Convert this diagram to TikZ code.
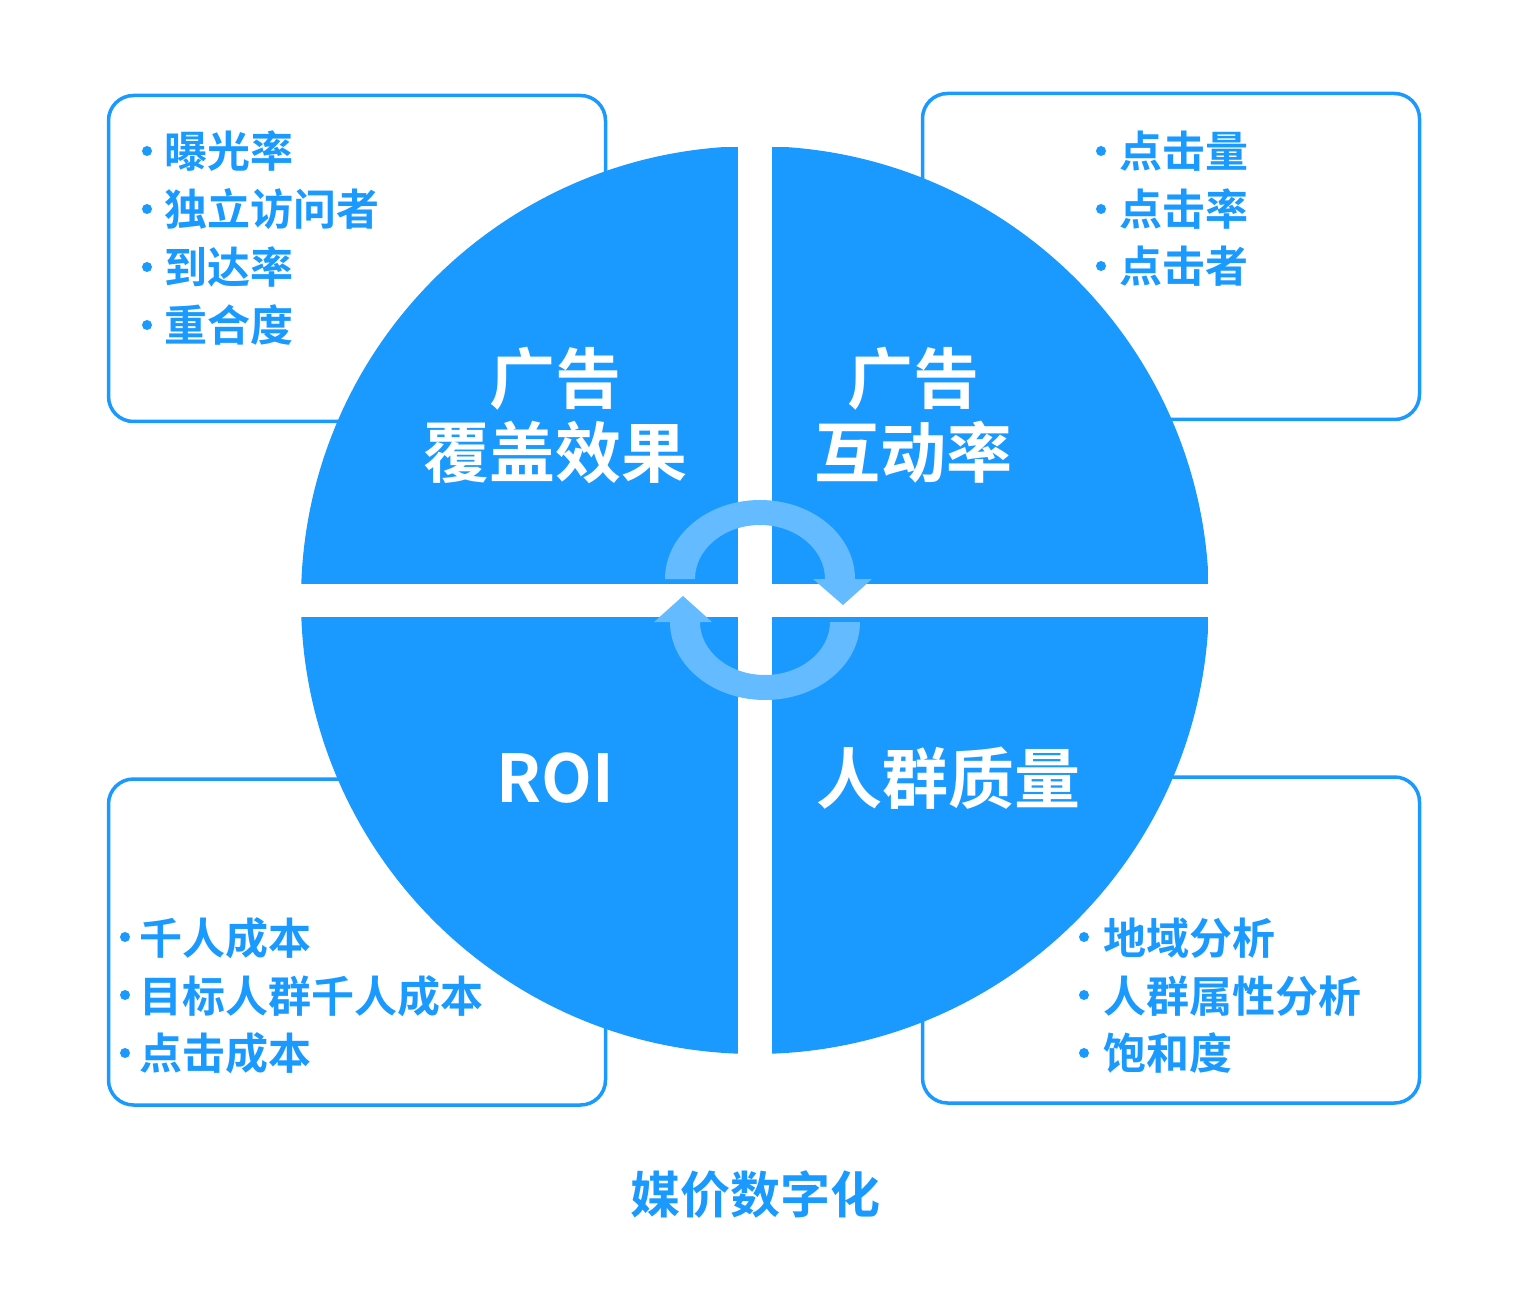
\documentclass[tikz,border=0pt]{standalone}
\usepackage{fontspec}
\setmainfont{Noto Sans CJK SC}[BoldFont={Noto Sans CJK SC Bold}]
\definecolor{mblue}{HTML}{1A9AFF}
\definecolor{lblue}{HTML}{64BBFF}
\begin{document}
\begin{tikzpicture}[x=1pt,y=1pt,
  box/.style={draw=mblue,line width=3.5pt,fill=white,rounded corners=25pt,minimum width=497pt,minimum height=326pt,inner sep=0pt},
  item/.style={anchor=west,inner sep=0pt,text=mblue,font=\fontsize{43}{48}\selectfont\bfseries},
  bdot/.style={circle,fill=mblue,inner sep=0pt,minimum size=10pt},
  quad/.style={text=white,font=\fontsize{66}{74}\selectfont\bfseries,align=center,inner sep=0pt},
  cyc/.style={fill=lblue,draw=none}]
\useasboundingbox (0,0) rectangle (1540,-1313);
\fill[white] (0,0) rectangle (1540,-1313);
% boxes
\node[box] (btl) at (357,-258.5) {};
\node[box] (btr) at (1171,-256.5) {};
\node[box] (bbl) at (357,-942) {};
\node[box] (bbr) at (1171,-940) {};
% circle quadrants
\begin{scope}
  \clip (755,-600) circle (454);
  \fill[mblue] (301,-147) rectangle (738,-584);
  \fill[mblue] (772,-147) rectangle (1209,-584);
  \fill[mblue] (301,-617) rectangle (738,-1054);
  \fill[mblue] (772,-617) rectangle (1209,-1054);
\end{scope}
% cycle arrows
\path[cyc] (665,-579) arc[start angle=180,end angle=0,x radius=95,y radius=79]
  -- (872,-579) -- (843,-605) -- (813,-579) -- (825,-579)
  arc[start angle=0,end angle=180,x radius=65,y radius=54] -- cycle;
\path[cyc] (860,-622) arc[start angle=0,end angle=-180,x radius=95,y radius=78]
  -- (654,-622) -- (683,-596) -- (712,-622) -- (700,-622)
  arc[start angle=180,end angle=360,x radius=65,y radius=53] -- cycle;
% quadrant labels
\node[quad] (qtl) at (555,-415) {广告\\覆盖效果};
\node[quad] (qtr) at (913,-415) {广告\\互动率};
\node[quad] (qbl) at (555,-778) {ROI};
\node[quad] (qbr) at (948,-778) {人群质量};
% top-left list
\node[bdot] (d11) at (147,-151) {}; \node[item] (t11) at (164,-151) {曝光率};
\node[bdot] (d12) at (147,-209) {}; \node[item] (t12) at (164,-209) {独立访问者};
\node[bdot] (d13) at (147,-267) {}; \node[item] (t13) at (164,-267) {到达率};
\node[bdot] (d14) at (147,-325) {}; \node[item] (t14) at (164,-325) {重合度};
% top-right list
\node[bdot] (d21) at (1101,-151) {}; \node[item] (t21) at (1119,-151) {点击量};
\node[bdot] (d22) at (1101,-209) {}; \node[item] (t22) at (1119,-209) {点击率};
\node[bdot] (d23) at (1101,-266) {}; \node[item] (t23) at (1119,-266) {点击者};
% bottom-left list
\node[bdot] (d31) at (125,-937) {}; \node[item] (t31) at (139,-938) {千人成本};
\node[bdot] (d32) at (125,-995) {}; \node[item] (t32) at (139,-996) {目标人群千人成本};
\node[bdot] (d33) at (125,-1053) {}; \node[item] (t33) at (139,-1053) {点击成本};
% bottom-right list
\node[bdot] (d41) at (1084,-937) {}; \node[item] (t41) at (1103,-938) {地域分析};
\node[bdot] (d42) at (1084,-995) {}; \node[item] (t42) at (1103,-996) {人群属性分析};
\node[bdot] (d43) at (1084,-1053) {}; \node[item] (t43) at (1103,-1053) {饱和度};
% title
\node[inner sep=0pt,text=mblue,font=\fontsize{50}{56}\selectfont\bfseries] (title) at (755,-1195) {媒价数字化};
\end{tikzpicture}
\end{document}
